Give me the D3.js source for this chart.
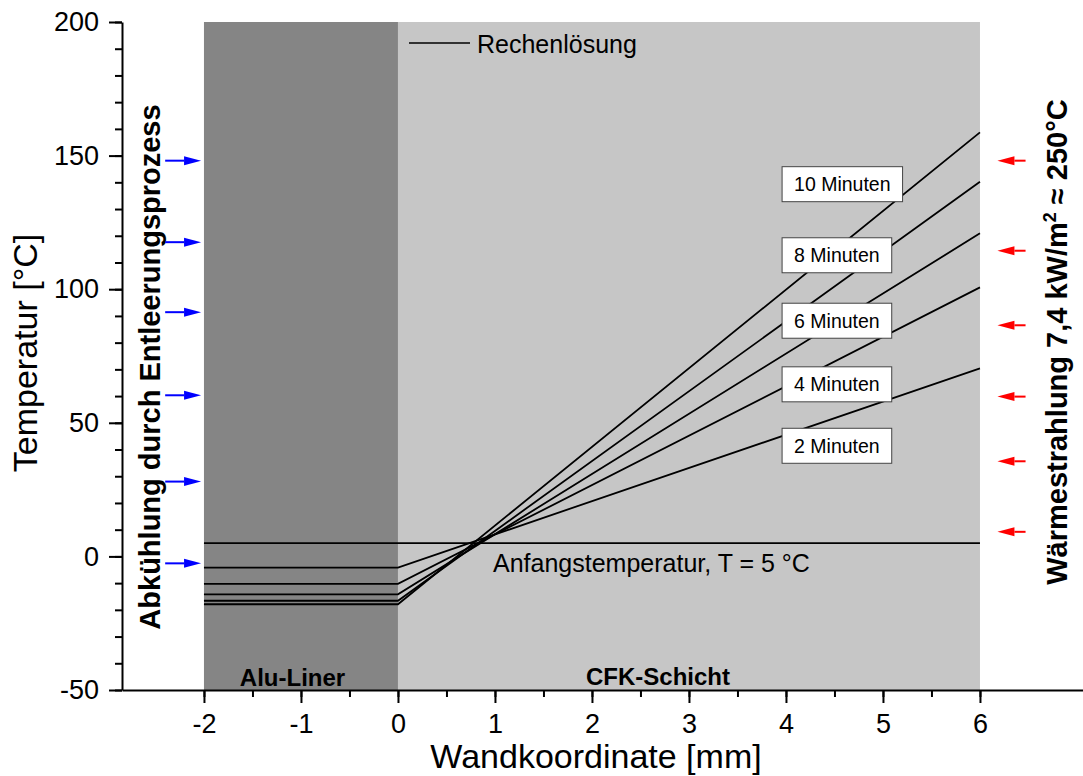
<!DOCTYPE html>
<meta charset="utf-8">
<style>
body { margin: 0; background: #fff; }
svg { font-family: "Liberation Sans", Arial, sans-serif; }
.axis path, .axis line { stroke: #000; stroke-width: 2px; }
.axis text { font-size: 27px; fill: #000; }
.curve { fill: none; stroke: #000; stroke-width: 1.8px; }
.label-box rect { fill: #fff; stroke: #444; stroke-width: 1px; }
.label-box text { font-size: 19.5px; }
</style>
<body>
<script src="https://d3js.org/d3.v7.min.js" charset="utf-8"></script>
<script>
// data
var xPoints = [-2, 0, 6];                       // wall coordinate [mm]: liner start, liner/CFK, outer wall
var times = ["2 Minuten", "4 Minuten", "6 Minuten", "8 Minuten", "10 Minuten"];
var tLiner = [-4.2, -10.3, -14.2, -16.6, -17.9];  // temperature in the alu liner
var tOuter = [70.4, 100.7, 120.9, 140.2, 158.7];  // temperature at x = 6 mm
var labelY = [41.4, 64.4, 88.2, 112.7, 139.3];    // centre of each time label box
var labelX = 3.96;
var tStart = 5;                                   // Anfangstemperatur
var coolArrows = [148.1, 117.6, 91.4, 60.3, 28.0, -2.6];
var heatArrows = [148.1, 114.4, 86.5, 59.8, 35.6, 9.2];
var xTicks = [-2, -1, 0, 1, 2, 3, 4, 5, 6];
var yTicks = [-50, 0, 50, 100, 150, 200];

// dimensions
var margin = {top: 22, right: 0, bottom: 86, left: 122},
    width = 1083 - margin.left - margin.right,
    height = 776 - margin.top - margin.bottom;

var x = d3.scaleLinear().domain([-2.845, -2.845 + width / 97]).range([0, width]);
var y = d3.scaleLinear().domain([-50, 200]).range([height, 0]);

// plain hyphen for negatives, like the original
var fmt = function(d) { return String(d); };

var svg = d3.select("body").append("svg")
    .attr("width", 1083)
    .attr("height", 776)
  .append("g")
    .attr("transform", "translate(" + margin.left + "," + margin.top + ")");

// layers
svg.append("rect")
    .attr("x", x(-2)).attr("y", y(200))
    .attr("width", x(0) - x(-2)).attr("height", y(-50) - y(200))
    .attr("fill", "#858585");
svg.append("rect")
    .attr("x", x(0)).attr("y", y(200))
    .attr("width", x(6) - x(0)).attr("height", y(-50) - y(200))
    .attr("fill", "#c6c6c6");

// lines
var line = d3.line()
    .x(function(d) { return x(d[0]); })
    .y(function(d) { return y(d[1]); });

svg.append("path")
    .attr("class", "curve")
    .attr("stroke-width", 1.5)
    .attr("d", line([[-2, tStart], [6, tStart]]));

times.forEach(function(t, i) {
  var pts = [[xPoints[0], tLiner[i]], [xPoints[1], tLiner[i]], [xPoints[2], tOuter[i]]];
  svg.append("path").attr("class", "curve").attr("d", line(pts));
});

// time labels
times.forEach(function(t, i) {
  var g = svg.append("g").attr("class", "label-box");
  var rect = g.append("rect");
  var txt = g.append("text")
      .attr("x", x(labelX) + 12)
      .attr("y", y(labelY[i]) + 7)
      .text(t);
  var w = txt.node().getComputedTextLength();
  rect.attr("x", x(labelX)).attr("y", y(labelY[i]) - 17.5)
      .attr("width", w + 24).attr("height", 35);
});

// axes
svg.append("g")
    .attr("class", "axis")
    .attr("transform", "translate(0," + height + ")")
    .call(d3.axisBottom(x).tickValues(d3.range(-2, 6.01, 0.5)).tickSize(7).tickSizeOuter(0).tickFormat(""))
    .call(function(g) { g.select(".domain").remove(); });
svg.append("g")
    .attr("class", "axis")
    .attr("transform", "translate(0," + height + ")")
    .call(d3.axisBottom(x).tickValues(xTicks).tickSize(13).tickSizeOuter(0).tickPadding(11).tickFormat(fmt));

svg.append("g")
    .attr("class", "axis")
    .call(d3.axisLeft(y).tickValues(d3.range(-50, 201, 10)).tickSize(7).tickSizeOuter(0).tickFormat(""))
    .call(function(g) { g.select(".domain").remove(); });
svg.append("g")
    .attr("class", "axis")
    .call(d3.axisLeft(y).tickValues(yTicks).tickSize(13).tickSizeOuter(0).tickPadding(10).tickFormat(fmt));

// axis titles
svg.append("text")
    .attr("x", 596 - margin.left).attr("y", 768 - margin.top)
    .attr("text-anchor", "middle")
    .style("font-size", "34px")
    .text("Wandkoordinate [mm]");
svg.append("text")
    .attr("transform", "translate(" + (37 - margin.left) + "," + (353 - margin.top) + ") rotate(-90)")
    .attr("text-anchor", "middle")
    .style("font-size", "34px")
    .text("Temperatur [°C]");

// legend
svg.append("line")
    .attr("x1", 409 - margin.left).attr("x2", 470 - margin.left)
    .attr("y1", 43 - margin.top).attr("y2", 43 - margin.top)
    .attr("stroke", "#000").attr("stroke-width", 1.5);
svg.append("text")
    .attr("x", 477 - margin.left).attr("y", 53 - margin.top)
    .style("font-size", "25px")
    .text("Rechenlösung");

svg.append("text")
    .attr("x", 493 - margin.left).attr("y", 572 - margin.top)
    .style("font-size", "25px")
    .text("Anfangstemperatur, T = 5 °C");

// layer names
svg.append("text")
    .attr("x", 292.5 - margin.left).attr("y", 686 - margin.top)
    .attr("text-anchor", "middle")
    .style("font-size", "24px").style("font-weight", "bold")
    .text("Alu-Liner");
svg.append("text")
    .attr("x", 658 - margin.left).attr("y", 685 - margin.top)
    .attr("text-anchor", "middle")
    .style("font-size", "24px").style("font-weight", "bold")
    .text("CFK-Schicht");

// boundary annotations
svg.append("text")
    .attr("transform", "translate(" + (160 - margin.left) + "," + (367 - margin.top) + ") rotate(-90)")
    .attr("text-anchor", "middle")
    .style("font-size", "29px").style("font-weight", "bold")
    .text("Abkühlung durch Entleerungsprozess");

var heat = svg.append("text")
    .attr("transform", "translate(" + (1067 - margin.left) + "," + (342 - margin.top) + ") rotate(-90)")
    .attr("text-anchor", "middle")
    .style("font-size", "29px").style("font-weight", "bold");
heat.append("tspan").text("Wärmestrahlung 7,4 kW/m");
heat.append("tspan").attr("dy", -11).style("font-size", "18px").text("2");
heat.append("tspan").attr("dy", 11).text(" ≈ 250°C");

// arrows
function arrow(x0, x1, yv, color) {
  var dir = x1 > x0 ? 1 : -1, head = 17;
  svg.append("line")
      .attr("x1", x(x0)).attr("x2", x(x1) - dir * head)
      .attr("y1", y(yv)).attr("y2", y(yv))
      .attr("stroke", color).attr("stroke-width", 2);
  svg.append("path")
      .attr("d", "M" + x(x1) + "," + y(yv) +
                 "L" + (x(x1) - dir * head) + "," + (y(yv) - 4.5) +
                 "L" + (x(x1) - dir * head) + "," + (y(yv) + 4.5) + "Z")
      .attr("fill", color);
}
coolArrows.forEach(function(v) { arrow(-2.40, -2.03, v, "#0000ff"); });
heatArrows.forEach(function(v) { arrow(6.47, 6.18, v, "#ff0000"); });
</script>
</body>
